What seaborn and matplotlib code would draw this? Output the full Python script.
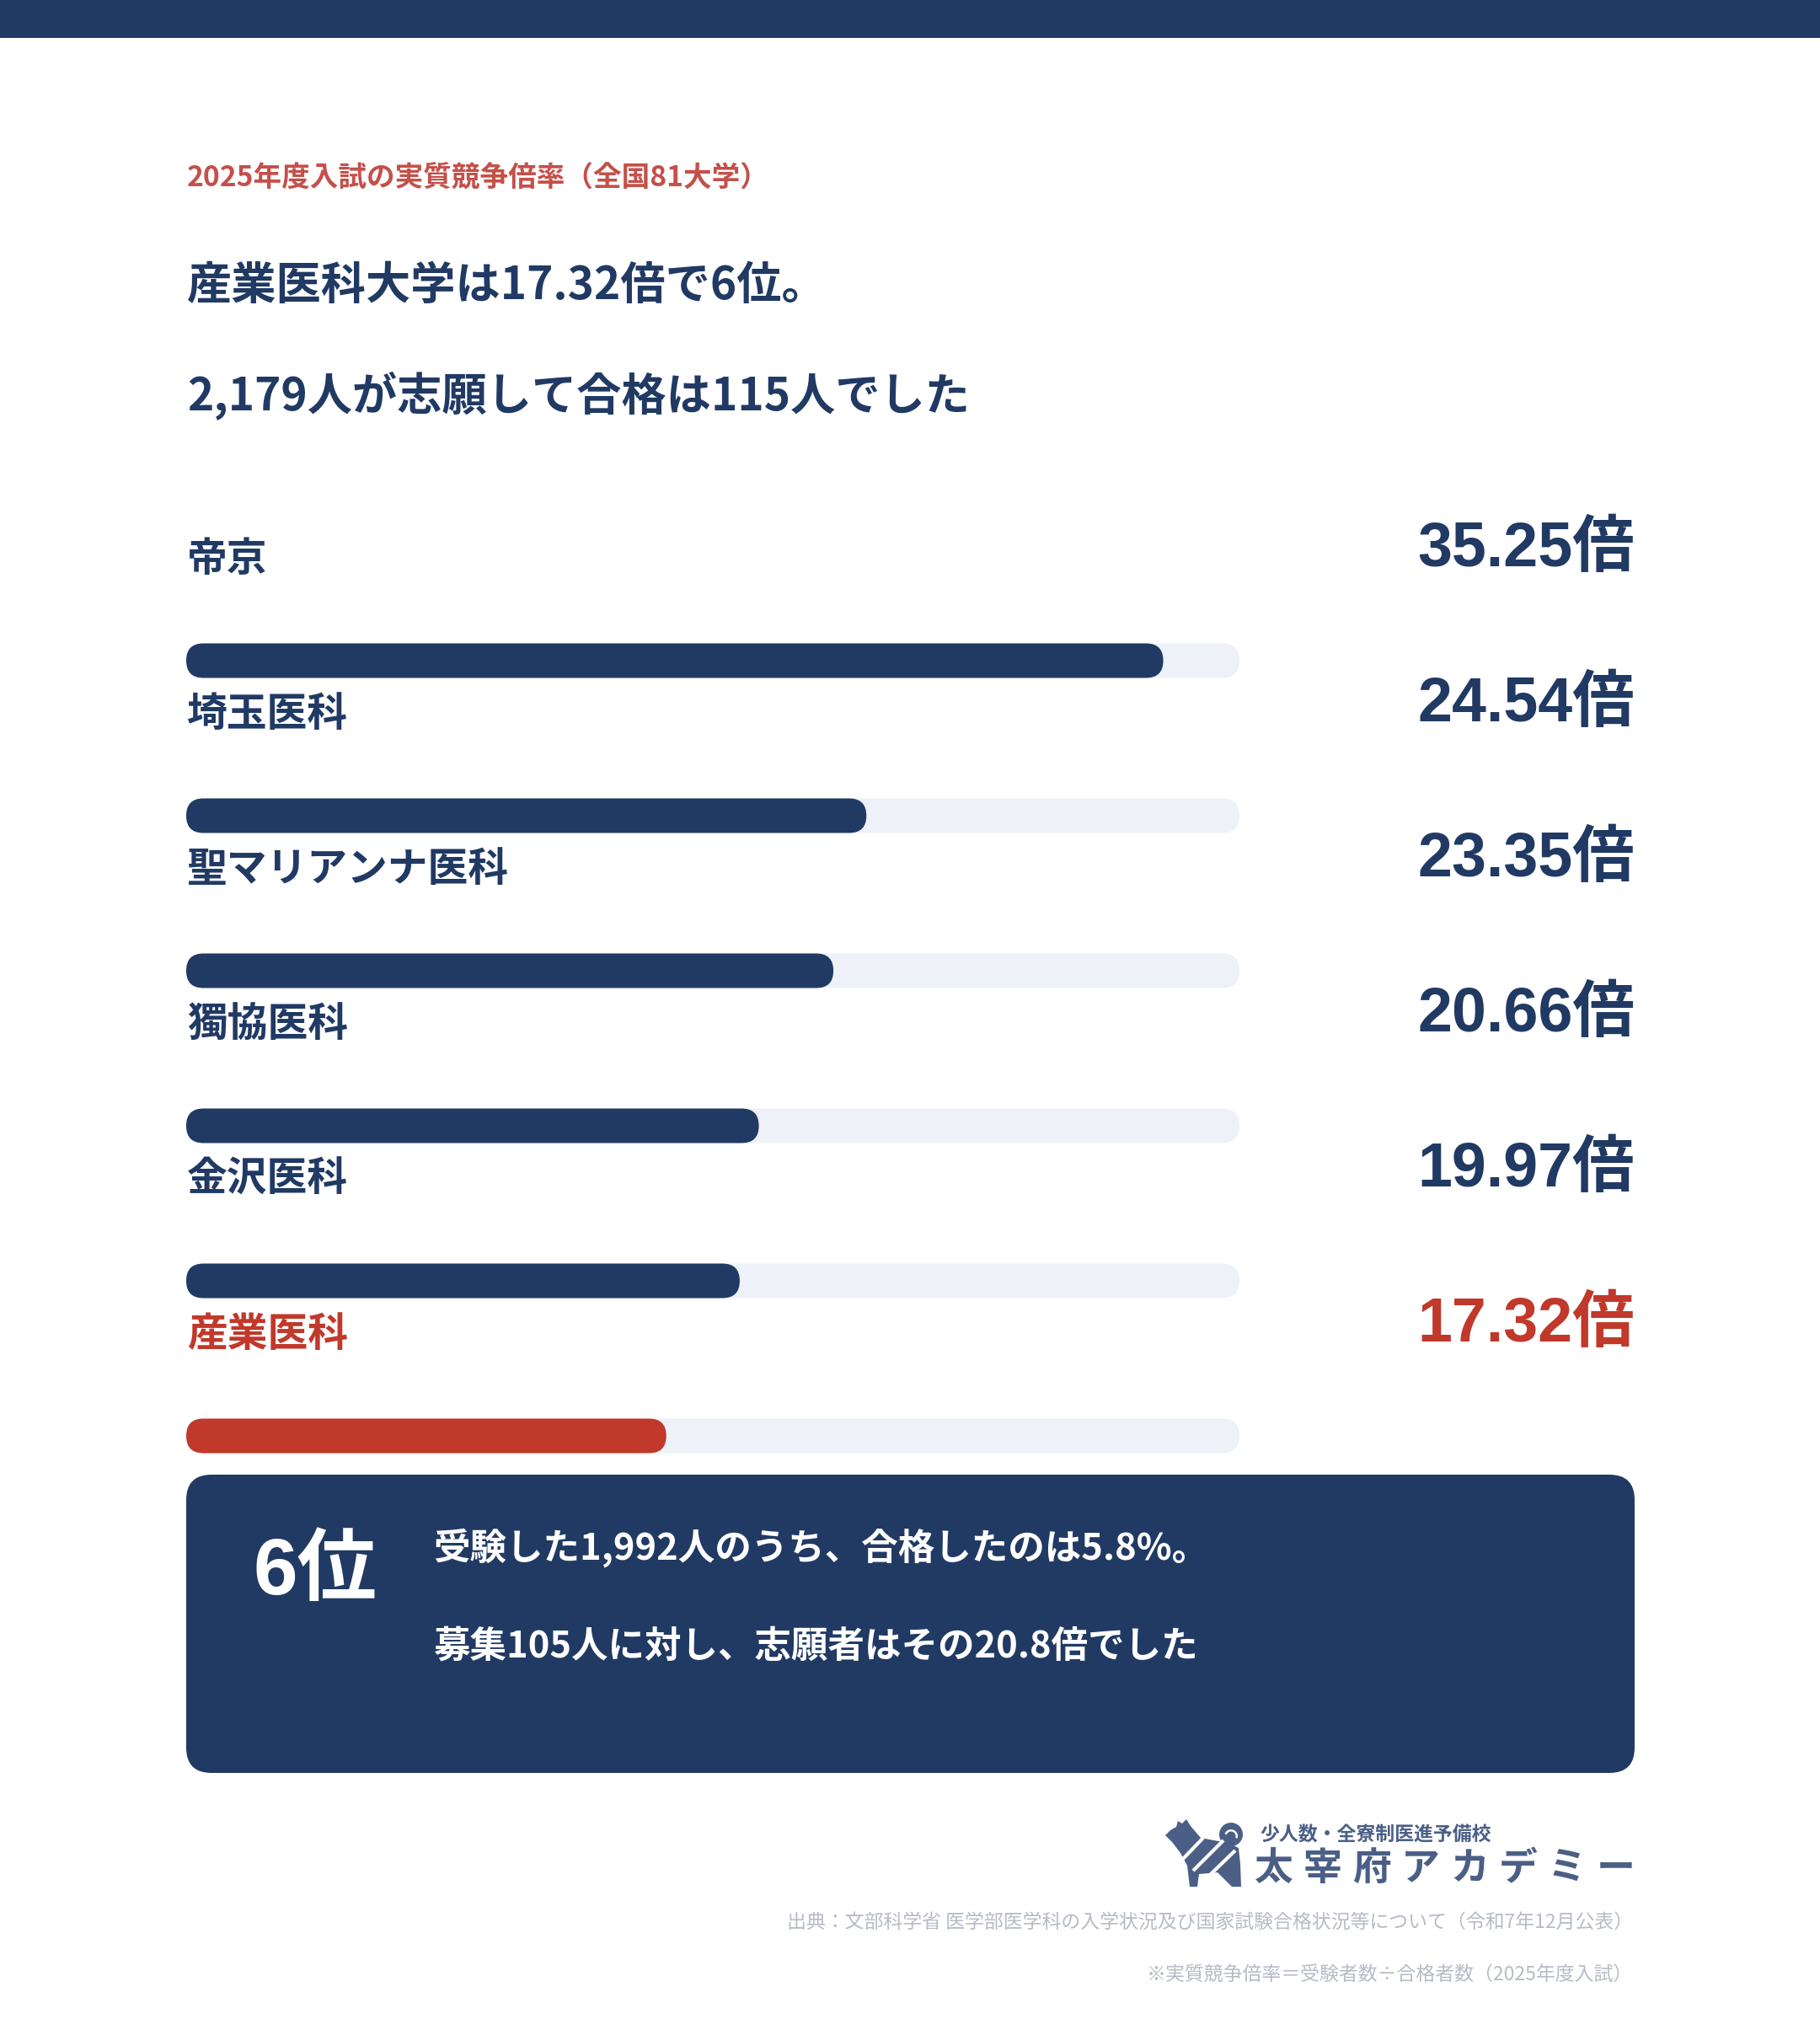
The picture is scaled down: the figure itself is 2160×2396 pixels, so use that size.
import numpy as np
import pandas as pd
import matplotlib.pyplot as plt
import seaborn as sns
from matplotlib.patches import FancyBboxPatch, Rectangle, Polygon, Circle, Wedge

sns.set_style("white")
plt.rcParams["font.family"] = ["Noto Sans CJK JP", "DejaVu Sans"]
LATIN = ["Liberation Sans", "Noto Sans CJK JP"]   # numbers in the big figures look like Arial

# data
schools = ["帝京", "埼玉医科", "聖マリアンナ医科", "獨協医科", "金沢医科", "産業医科"]
ratios = [35.25, 24.54, 23.35, 20.66, 19.97, 17.32]
value_labels = ["35.25倍", "24.54倍", "23.35倍", "20.66倍", "19.97倍", "17.32倍"]
scale_max = 38
highlight = "産業医科"

subtitle = "2025年度入試の実質競争倍率（全国81大学）"
headline_1 = "産業医科大学は17.32倍で6位。"
headline_2 = "2,179人が志願して合格は115人でした"
rank_text = "6位"
box_line_1 = "受験した1,992人のうち、合格したのは5.8%。"
box_line_2 = "募集105人に対し、志願者はその20.8倍でした"
logo_small = "少人数・全寮制医進予備校"
logo_big = "太宰府アカデミー"
source_1 = "出典：文部科学省 医学部医学科の入学状況及び国家試験合格状況等について（令和7年12月公表）"
source_2 = "※実質競争倍率＝受験者数÷合格者数（2025年度入試）"

NAVY = "#213a64"
RED = "#c0392b"
SUB_RED = "#c4504a"
TRACK = "#eef1f8"
LOGO = "#4b5f86"
FOOT = "#b7bbc6"

W, H = 2160, 2396
fig = plt.figure(figsize=(W / 100, H / 100), dpi=100)
fig.patch.set_facecolor("white")

# background axes in pixel units (y down)
bg = fig.add_axes([0, 0, 1, 1])
bg.set_xlim(0, W)
bg.set_ylim(H, 0)
bg.axis("off")

bg.add_patch(Rectangle((0, 0), W, 45, color=NAVY, lw=0))

bg.text(222, 212, subtitle, color=SUB_RED, fontsize=24.2, fontweight="bold", va="center")
bg.text(222, 340, headline_1, color=NAVY, fontsize=38.3, fontweight="bold", va="center")
bg.text(222, 469, headline_2, color=NAVY, fontsize=38.3, fontweight="bold", va="center")

# bar chart area
bar_left, bar_right = 221, 1471
row_top, row_bottom = 692, 1796
pitch = (row_bottom - row_top) / len(schools)
ax = fig.add_axes([bar_left / W, 1 - row_bottom / H, (bar_right - bar_left) / W, (row_bottom - row_top) / H])
ax.patch.set_visible(False)

df = pd.DataFrame({"school": schools, "ratio": ratios, "track": [scale_max] * len(schools)})
fill_colors = [RED if s == highlight else NAVY for s in schools]
bw = 41 / pitch

sns.barplot(data=df, x="track", y="school", color=TRACK, width=bw, saturation=1, ax=ax)
sns.barplot(data=df, x="ratio", y="school", hue="school", palette=fill_colors, width=bw,
            saturation=1, legend=False, ax=ax)
ax.set_xlim(0, scale_max)
ax.set_ylim(len(schools) - 0.5, -0.5)
ax.axis("off")

# swap square bars for rounded ones
inv = bg.transData.inverted()
for p in list(ax.patches):
    bb = p.get_window_extent()
    (x0, y0), (x1, y1) = inv.transform([[bb.x0, bb.y0], [bb.x1, bb.y1]])
    x0, x1 = min(x0, x1), max(x0, x1)
    y0, y1 = min(y0, y1), max(y0, y1)
    h = y1 - y0
    bg.add_patch(FancyBboxPatch((x0, y0), x1 - x0, h,
                                boxstyle=f"round,pad=0,rounding_size={h / 2}",
                                fc=p.get_facecolor(), ec="none", lw=0))
    p.remove()

val_x = (1940 - bar_left) / (bar_right - bar_left)
for i, (s, v) in enumerate(zip(schools, value_labels)):
    c = RED if s == highlight else NAVY
    ax.text(0.001, i - 121 / pitch, s, color=c, fontsize=34.4, fontweight="bold",
            va="center", ha="left", transform=ax.get_yaxis_transform())
    ax.text(val_x, i - 112 / pitch, v, color=c, fontsize=53, fontweight="bold",
            family=LATIN, va="baseline", ha="right", transform=ax.get_yaxis_transform())

# summary box
bg.add_patch(FancyBboxPatch((221, 1750), 1719, 354, boxstyle="round,pad=0,rounding_size=30",
                            fc=NAVY, ec="none", lw=0))
bg.text(301, 1892, rank_text, color="white", fontsize=68, fontweight="bold", family=LATIN,
        va="baseline")
bg.text(514, 1837, box_line_1, color="white", fontsize=31.3, fontweight="bold", va="center")
bg.text(514, 1954, box_line_2, color="white", fontsize=31.3, fontweight="bold", va="center")

# logo: rough dog silhouette
dog = [(1383, 2178), (1391, 2186), (1401, 2199), (1409, 2214), (1412, 2239), (1421, 2239),
       (1423, 2224), (1445, 2222), (1462, 2239), (1473, 2239), (1472, 2212), (1470, 2193),
       (1460, 2188), (1446, 2185), (1425, 2181), (1413, 2167), (1408, 2159), (1403, 2164),
       (1398, 2161), (1396, 2168), (1389, 2172)]
bg.add_patch(Polygon(dog, closed=True, fc=LOGO, ec="none"))
bg.add_patch(Circle((1461, 2177), 14, fc=LOGO, ec="none"))
bg.add_patch(Wedge((1461, 2179), 8, 200, 20, width=2.5, fc="white", ec="none"))
bg.plot([1404, 1428], [2206, 2181], color="white", lw=3.0, solid_capstyle="butt")
bg.plot([1416, 1452], [2220, 2184], color="white", lw=3.0, solid_capstyle="butt")
bg.plot([1437, 1466], [2224, 2196], color="white", lw=3.0, solid_capstyle="butt")

bg.text(1495, 2178, logo_small, color=LOGO, fontsize=16.5, fontweight="bold", va="center")
for k, ch in enumerate(logo_big):
    bg.text(1512 + k * 58, 2218, ch, color=LOGO, fontsize=33, fontweight="bold",
            va="center", ha="center")

bg.text(1938, 2281, source_1, color=FOOT, fontsize=16.5, va="center", ha="right")
bg.text(1938, 2343, source_2, color=FOOT, fontsize=16.5, va="center", ha="right")

fig.savefig("out.png", dpi=100, facecolor="white")
